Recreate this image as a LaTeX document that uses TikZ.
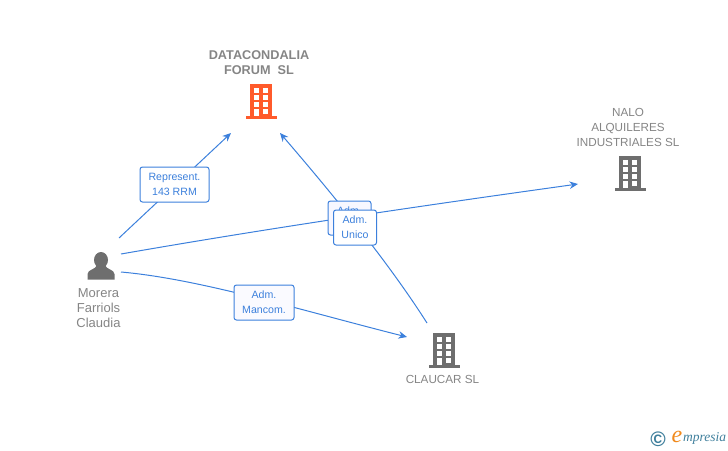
\documentclass[tikz,border=0pt]{standalone}
\usepackage{fontspec}
\setmainfont{Liberation Sans}
\newfontfamily\logofont{Liberation Serif}
\usepackage{tikz}
\usetikzlibrary{positioning, arrows.meta}
\definecolor{linkblue}{HTML}{3C80DC}
\definecolor{namegray}{HTML}{858585}
\definecolor{icongray}{HTML}{6E6E6E}
\definecolor{forumorange}{HTML}{FF5A2B}
\definecolor{logoblue}{HTML}{3F7F9C}
\definecolor{logoorange}{HTML}{F08A1D}
\tikzset{
    pics/buildingicon/.style={code={
        \fill[#1] (-11,-17) rectangle (11,15);
        \fill[#1] (-15,14.5) rectangle (16,17.5);
        \foreach \yy in {-13,-6,1} {
            \fill[white] (-7,\yy) rectangle (-2,\yy+4.5);
            \fill[white] (2,\yy) rectangle (7,\yy+4.5);
        }
        \fill[white] (-7,8) rectangle (-2,15);
        \fill[white] (2,8) rectangle (7,12.5);
    }},
    pics/personicon/.style={code={
        \fill[#1] (0,-6) ellipse (7 and 8);
        \fill[#1] (-13.5,13.5) -- (-13.5,8) .. controls (-13.5,3.5) and (-5,3.5) .. (-4,-1)
            -- (4,-1) .. controls (5,3.5) and (13.5,3.5) .. (13.5,8) -- (13.5,13.5) -- cycle;
    }},
    linkbox/.style={draw=linkblue, line width=1pt, rounded corners=2.5pt, fill=white, text=linkblue,
        font=\fontsize{10.6}{15}\selectfont, align=center, inner sep=0pt},
    namelabel/.style={text=namegray, font=\fontsize{11.7}{15}\selectfont, align=center, inner sep=0pt},
    link/.style={draw=linkblue, line width=1pt, -{Stealth[length=8.5pt,width=7.5pt]}}
}
\begin{document}
\begin{tikzpicture}[x=1pt, y=-1pt]
    \useasboundingbox (0,0) rectangle (728,450);

    % Icons
    \coordinate (forum) at (261,101);
    \coordinate (nalo) at (630,173);
    \coordinate (claucar) at (444,350);
    \coordinate (morera) at (101,266);
    \pic at (forum) {buildingicon=forumorange};
    \pic at (nalo) {buildingicon=icongray};
    \pic at (claucar) {buildingicon=icongray};
    \pic at (morera) {personicon=icongray};

    % Names
    \node (forumname) [namelabel, above=26pt of forum, anchor=south, xshift=-2pt, font=\fontsize{12.7}{15}\selectfont\bfseries] {DATACONDALIA\\FORUM~~SL};
    \node (naloname) [namelabel, above=26pt of nalo, anchor=south, xshift=-2pt] {NALO\\ALQUILERES\\INDUSTRIALES SL};
    \node (claucarname) [namelabel, below=25pt of claucar, anchor=north, xshift=-1.5pt] {CLAUCAR SL};
    \node (moreraname) [namelabel, font=\fontsize{13}{15}\selectfont, below=22pt of morera, anchor=north, xshift=-2.5pt] {Morera\\Farriols\\Claudia};

    % Free ends of the connectors
    \coordinate (m1) at (119,238);
    \coordinate (f1) at (231,133);
    \coordinate (m2) at (121,254);
    \coordinate (n1) at (578,184);
    \coordinate (m3) at (121,272);
    \coordinate (c1) at (407,337);
    \coordinate (c2) at (427,323);
    \coordinate (f2) at (280,133);

    % Connectors
    \draw[link] (m1) -- (f1);
    \draw[link] (m2) .. controls (270,228) and (420,206) .. (n1);
    \draw[link] (m3) .. controls (200,279) and (300,310) .. (c1);
    \draw[link] (c2) .. controls (392,268) and (342,205) .. (f2);

    % Labels on the connectors
    \node (represent) [linkbox, minimum width=69pt, minimum height=35pt] at (174.5,184.5) {Represent.\\143 RRM};
    \node (mancom) [linkbox, minimum width=60pt, minimum height=35pt, fill=blue!2] at (264,302.5) {Adm.\\Mancom.};
    \node (adm) [linkbox, minimum width=43pt, minimum height=34pt, fill=blue!3] at (349.5,218) {Adm.\\\phantom{Unico}};
    \node (unico) [linkbox, minimum width=43pt, minimum height=35pt, right=-38.5pt of adm, yshift=-9.5pt] {Adm.\\Unico};

    % Logo
    \node (copyright) [inner sep=0pt, text=logoblue, font=\fontsize{21}{21}\selectfont\bfseries] at (658,439) {©};
    \node (logoe) [inner sep=0pt, text=logoorange, font=\logofont\itshape\fontsize{24}{24}\selectfont] at (677,437) {e};
    \node (logotext) [inner sep=0pt, right=0.5pt of logoe, yshift=-1pt, text=logoblue, font=\logofont\itshape\fontsize{13.5}{14}\selectfont] {mpresia};
\end{tikzpicture}
\end{document}
